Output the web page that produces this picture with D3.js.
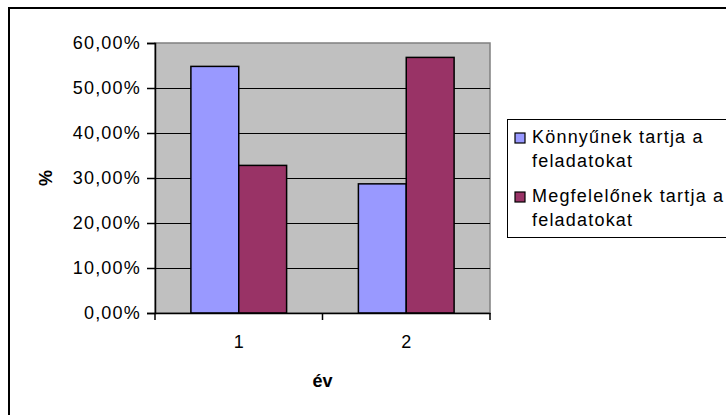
<!DOCTYPE html>
<html>
<head>
<meta charset="utf-8">
<script src="https://cdn.jsdelivr.net/npm/d3@7"></script>
<style>
  body { margin: 0; background: #fff; }
  svg text { font-family: "Liberation Sans", Arial, sans-serif; }
</style>
</head>
<body>
<div id="chart"></div>
<script>
// data
var categories = ["1", "2"];
var seriesNames = ["Könnyűnek tartja a feladatokat", "Megfelelőnek tartja a feladatokat"];
var legendLines = [["Könnyűnek tartja a", "feladatokat"], ["Megfelelőnek tartja a", "feladatokat"]];
var easyValues = [54.8, 28.7];
var fitValues = [32.8, 56.8];
var yTicks = [0, 10, 20, 30, 40, 50, 60];
var colors = ["#9999FF", "#993366"];

var width = 726, height = 415;
var plot = {left: 155, top: 43, right: 490, bottom: 313};

var svg = d3.select("#chart").append("svg")
    .attr("width", width)
    .attr("height", height);

// chart frame, runs off the right and bottom edge
svg.append("rect")
    .attr("x", 9).attr("y", 8)
    .attr("width", 740).attr("height", 430)
    .attr("fill", "#fff")
    .attr("stroke", "#000")
    .attr("stroke-width", 2);

var x0 = d3.scaleBand().domain(categories).range([plot.left, plot.right]).padding(0);
var x1 = d3.scaleBand().domain(d3.range(seriesNames.length))
    .range([0, x0.bandwidth()]).paddingInner(0).paddingOuter(0.75);
var y = d3.scaleLinear().domain([0, 60]).range([plot.bottom, plot.top]);

// plot area
svg.append("rect")
    .attr("x", plot.left).attr("y", plot.top)
    .attr("width", plot.right - plot.left).attr("height", plot.bottom - plot.top)
    .attr("fill", "#C0C0C0")
    .attr("stroke", "#808080")
    .attr("stroke-width", 1.5);

// gridlines
svg.append("g").selectAll("line")
    .data(yTicks.filter(function(d) { return d > 0 && d < 60; }))
    .enter().append("line")
    .attr("x1", plot.left).attr("x2", plot.right)
    .attr("y1", function(d) { return Math.round(y(d)) + 0.5; })
    .attr("y2", function(d) { return Math.round(y(d)) + 0.5; })
    .attr("stroke", "#000")
    .attr("stroke-width", 1);

// bars
var rows = categories.map(function(c, i) { return {cat: c, values: [easyValues[i], fitValues[i]]}; });
svg.append("g").selectAll("g")
    .data(rows)
    .enter().append("g")
    .attr("transform", function(d) { return "translate(" + x0(d.cat) + ",0)"; })
    .selectAll("rect")
    .data(function(d) { return d.values.map(function(v, k) { return {k: k, v: v}; }); })
    .enter().append("rect")
    .attr("x", function(d) { return x1(d.k); })
    .attr("y", function(d) { return y(d.v); })
    .attr("width", x1.bandwidth())
    .attr("height", function(d) { return y(0) - y(d.v); })
    .attr("fill", function(d) { return colors[d.k]; })
    .attr("stroke", "#000")
    .attr("stroke-width", 1.5);

// y axis
var yAxis = svg.append("g")
    .attr("transform", "translate(" + plot.left + ",0)")
    .call(d3.axisLeft(y).tickValues(yTicks).tickSize(8).tickPadding(6)
        .tickFormat(function(d) { return d.toFixed(2).replace(".", ",") + "%"; }));
yAxis.select(".domain").attr("stroke", "#000").attr("stroke-width", 1.5);
yAxis.selectAll(".tick line").attr("stroke", "#000").attr("stroke-width", 1.5);
yAxis.selectAll("text")
    .attr("font-size", "18px")
    .attr("letter-spacing", "1.2px")
    .attr("fill", "#000");

// x axis
var xAxis = svg.append("g")
    .attr("transform", "translate(0," + plot.bottom + ")")
    .call(d3.axisBottom(x0).tickSize(0).tickPadding(22));
xAxis.select(".domain").attr("stroke", "#000").attr("stroke-width", 1.5);
xAxis.selectAll("text")
    .attr("font-size", "18px")
    .attr("fill", "#000");
xAxis.selectAll("line.sep")
    .data(categories.map(function(c) { return x0(c); }).concat([plot.right]))
    .enter().append("line")
    .attr("class", "sep")
    .attr("x1", function(d) { return d; }).attr("x2", function(d) { return d; })
    .attr("y1", 0).attr("y2", 7)
    .attr("stroke", "#000")
    .attr("stroke-width", 1.5);

// axis titles
svg.append("text")
    .attr("x", (plot.left + plot.right) / 2)
    .attr("y", 387)
    .attr("text-anchor", "middle")
    .attr("font-size", "18px")
    .attr("font-weight", "bold")
    .text("év");

svg.append("text")
    .attr("transform", "translate(52," + ((plot.top + plot.bottom) / 2) + ") rotate(-90)")
    .attr("text-anchor", "middle")
    .attr("font-size", "18px")
    .attr("font-weight", "bold")
    .text("%");

// legend
var legend = svg.append("g");
legend.append("rect")
    .attr("x", 507.5).attr("y", 119.5)
    .attr("width", 240).attr("height", 118)
    .attr("fill", "#fff")
    .attr("stroke", "#000")
    .attr("stroke-width", 1);

var entryY = [143, 202];
var item = legend.selectAll("g.item")
    .data(seriesNames)
    .enter().append("g")
    .attr("class", "item")
    .attr("transform", function(d, i) { return "translate(0," + entryY[i] + ")"; });
item.append("rect")
    .attr("x", 515).attr("y", -10)
    .attr("width", 10).attr("height", 10)
    .attr("fill", function(d, i) { return colors[i]; })
    .attr("stroke", "#000")
    .attr("stroke-width", 1.2);
item.selectAll("text")
    .data(function(d, i) { return legendLines[i]; })
    .enter().append("text")
    .attr("x", 532)
    .attr("y", function(d, j) { return j * 24; })
    .attr("font-size", "18px")
    .attr("letter-spacing", "1.2px")
    .text(function(d) { return d; });
</script>
</body>
</html>
